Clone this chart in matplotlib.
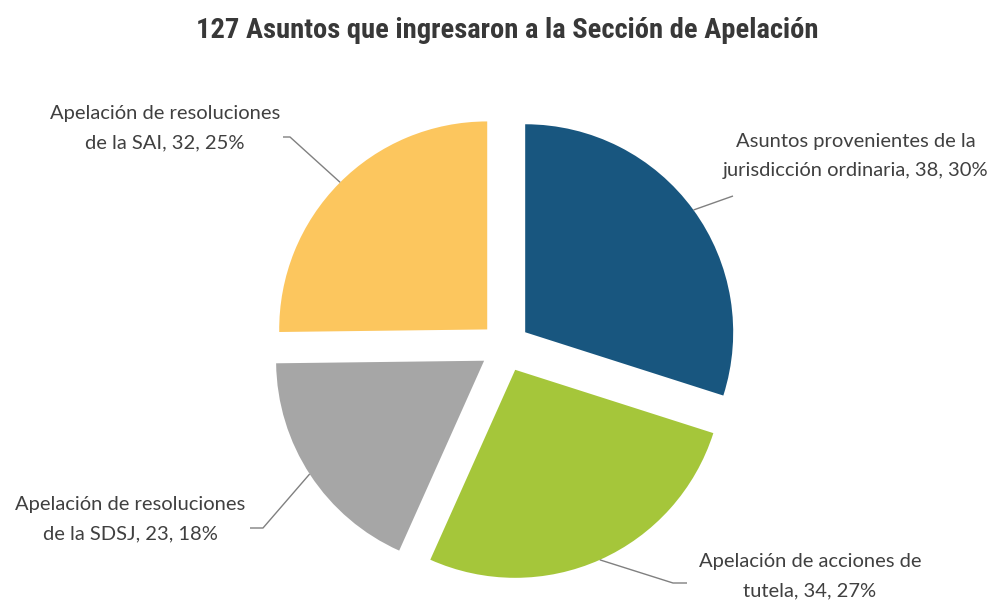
import matplotlib
matplotlib.use("Agg")
import matplotlib.pyplot as plt
import numpy as np
from matplotlib import font_manager as fm

# ---- data ----
categories = ["Asuntos provenientes de la\njurisdicción ordinaria",
              "Apelación de acciones de\ntutela",
              "Apelación de resoluciones\nde la SDSJ",
              "Apelación de resoluciones\nde la SAI"]
values = [38, 34, 23, 32]
percents = [30, 27, 18, 25]
colors = ["#18567f", "#a5c63a", "#a6a6a6", "#fcc65e"]
title = "127 Asuntos que ingresaron a la Sección de Apelación"

def pick(names):
    for n in names:
        try:
            fm.findfont(fm.FontProperties(family=n), fallback_to_default=False)
            return n
        except Exception:
            pass
    return "DejaVu Sans"

title_font = pick(["Roboto Condensed", "Liberation Sans Narrow", "DejaVu Sans Condensed", "Roboto"])
label_font = pick(["Lato", "Open Sans", "DejaVu Sans"])

fig = plt.figure(figsize=(10, 6.03), dpi=100)
ax = fig.add_axes([0, 0, 1, 1])

W, H = 1000, 603
center = (505, H - 347)
radius = 208
explode = [25] * len(values)

wedges, _ = ax.pie(values, colors=colors, startangle=90, counterclock=False,
                   center=center, radius=radius, explode=explode,
                   wedgeprops=dict(linewidth=0), frame=True)
ax.set_xlim(0, W)
ax.set_ylim(0, H)
ax.set_aspect("auto")
ax.axis("off")

# labels (pixel layout, y from top)
label_pos = [(856, 156), (810, 576), (130, 519), (165, 128)]
anchor_angles = [36, -66, 213, 135]
elbows = [[(733, 196)],
          [(673, 583), (687, 583)],
          [(263, 528), (250, 528)],
          [(290, 137), (283, 137)]]

for w, cat, v, p, (lx, ly), ang, elb in zip(wedges, categories, values, percents,
                                            label_pos, anchor_angles, elbows):
    cx, cy = w.center
    a = np.deg2rad(ang)
    ax_pt = (cx + w.r * np.cos(a), cy + w.r * np.sin(a))
    xs = [ax_pt[0]] + [e[0] for e in elb]
    ys = [ax_pt[1]] + [H - e[1] for e in elb]
    ax.plot(xs, ys, color="#808080", lw=1.0, solid_capstyle="butt")
    ax.text(lx, H - ly, f"{cat}, {v}, {p}%", ha="center", va="center",
            fontsize=14.5, color="#404040", family=label_font, linespacing=1.85)

ax.text(507, H - 31, title, ha="center", va="center", fontsize=20.5,
        fontweight="bold", color="#383838", family=title_font)

fig.savefig("out.png", dpi=100, facecolor="white")
